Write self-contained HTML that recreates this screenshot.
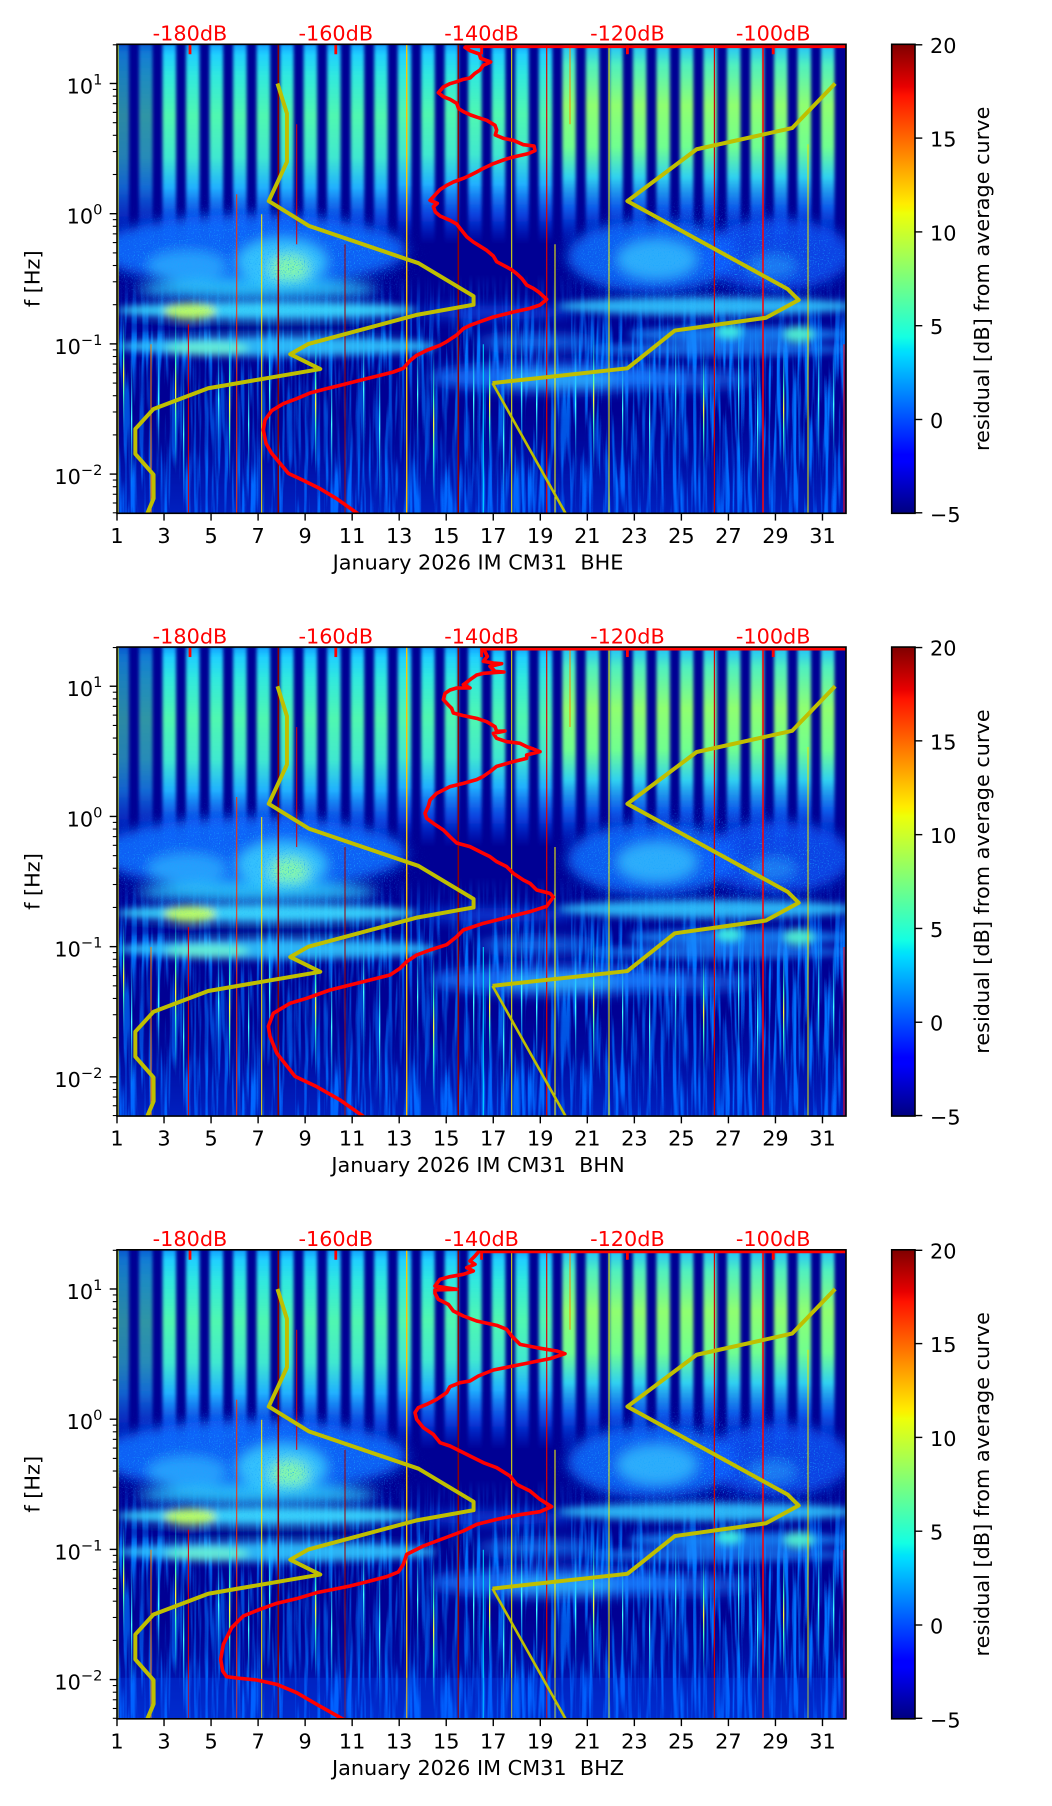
<!DOCTYPE html>
<html><head><meta charset="utf-8"><style>
html,body{margin:0;padding:0;background:#fff;}
svg{display:block;font-family:"DejaVu Sans","Liberation Sans",sans-serif;}
</style></head><body>
<svg width="1052" height="1806" viewBox="0 0 1052 1806" xmlns="http://www.w3.org/2000/svg" xmlns:xlink="http://www.w3.org/1999/xlink">
<defs>
<clipPath id="clp"><rect x="0" y="0" width="729" height="469"/></clipPath>
<linearGradient id="sgA" x1="0" y1="0" x2="0" y2="1">
<stop offset="0" stop-color="#10a0ff"/><stop offset="0.05" stop-color="#20d0ff"/><stop offset="0.15" stop-color="#30e8e0"/><stop offset="0.35" stop-color="#50f8b0"/><stop offset="0.55" stop-color="#40e8d0"/><stop offset="0.7" stop-color="#20b0ff"/><stop offset="0.85" stop-color="#1060ff" stop-opacity="0.7"/><stop offset="1" stop-color="#0040ff" stop-opacity="0"/>
</linearGradient>
<linearGradient id="sgB" x1="0" y1="0" x2="0" y2="1">
<stop offset="0" stop-color="#20c0ff"/><stop offset="0.1" stop-color="#50f0c0"/><stop offset="0.3" stop-color="#90ff70"/><stop offset="0.5" stop-color="#70ff90"/><stop offset="0.65" stop-color="#30d0f0"/><stop offset="0.8" stop-color="#1070ff" stop-opacity="0.8"/><stop offset="1" stop-color="#0040ff" stop-opacity="0"/>
</linearGradient>
<linearGradient id="spC" x1="0" y1="0" x2="0" y2="1">
<stop offset="0" stop-color="#00a0ff" stop-opacity="0"/><stop offset="0.5" stop-color="#40ffff"/><stop offset="1" stop-color="#00a0ff" stop-opacity="0"/>
</linearGradient>
<linearGradient id="spY" x1="0" y1="0" x2="0" y2="1">
<stop offset="0" stop-color="#00c0ff" stop-opacity="0"/><stop offset="0.35" stop-color="#40ffc0"/><stop offset="0.5" stop-color="#ffff30"/><stop offset="0.65" stop-color="#40ffc0"/><stop offset="1" stop-color="#00c0ff" stop-opacity="0"/>
</linearGradient>
<linearGradient id="botg" x1="0" y1="0" x2="0" y2="1">
<stop offset="0" stop-color="#0050ff" stop-opacity="0"/><stop offset="1" stop-color="#0050ff" stop-opacity="0.4"/>
</linearGradient>
<linearGradient id="mg1" x1="0" y1="0" x2="0" y2="1">
<stop offset="0" stop-color="#000"/><stop offset="0.3" stop-color="#fff"/><stop offset="1" stop-color="#fff"/>
</linearGradient>
<linearGradient id="jet" x1="0" y1="1" x2="0" y2="0">
<stop offset="0" stop-color="#000080"/><stop offset="0.11" stop-color="#0000ff"/><stop offset="0.125" stop-color="#0000ff"/><stop offset="0.34" stop-color="#00dbff"/><stop offset="0.35" stop-color="#00e5f8"/><stop offset="0.375" stop-color="#14ffe3"/><stop offset="0.64" stop-color="#eeff09"/><stop offset="0.65" stop-color="#f7f500"/><stop offset="0.66" stop-color="#ffec00"/><stop offset="0.89" stop-color="#ff1200"/><stop offset="0.91" stop-color="#e80000"/><stop offset="1" stop-color="#800000"/>
</linearGradient>
<filter id="hb" x="-5%" y="-5%" width="110%" height="110%"><feGaussianBlur stdDeviation="1.6 1"/></filter>
<filter id="cb" x="-20%" y="-30%" width="140%" height="160%"><feGaussianBlur stdDeviation="6"/></filter>
<filter id="cb2" x="-20%" y="-30%" width="140%" height="160%"><feGaussianBlur stdDeviation="4"/></filter>
<filter id="db" x="-20%" y="-30%" width="140%" height="160%"><feGaussianBlur stdDeviation="12"/></filter>
<filter id="mb" x="-20%" y="-30%" width="140%" height="160%"><feGaussianBlur stdDeviation="15"/></filter>
<filter id="streak" x="0" y="0" width="1" height="1" color-interpolation-filters="sRGB">
<feTurbulence type="fractalNoise" baseFrequency="0.25 0.012" numOctaves="2" seed="4"/>
<feColorMatrix type="matrix" values="0 0 0 0 0  0 0 0 0 0.45  0 0 0 0 1  4.5 0 0 0 -2.05"/>
</filter>
<filter id="spk" x="0" y="0" width="1" height="1" color-interpolation-filters="sRGB">
<feTurbulence type="fractalNoise" baseFrequency="0.8" numOctaves="1" seed="9"/>
<feColorMatrix type="matrix" values="0 0 0 0 0.1  0 0 0 0 0.65  0 0 0 0 1  5 0 0 0 -2.8"/>
</filter>
<mask id="mStreak" maskUnits="userSpaceOnUse" x="0" y="0" width="729" height="469">
<rect x="0" y="230" width="729" height="239" fill="url(#mg1)"/>
</mask>
<mask id="mSpk" maskUnits="userSpaceOnUse" x="-50" y="-50" width="829" height="569">
<g filter="url(#mb)">
<ellipse cx="140" cy="215" rx="150" ry="42" fill="#fff"/>
<ellipse cx="590" cy="215" rx="140" ry="42" fill="#fff"/>
</g>
</mask>

<g id="spec">
<rect x="0" y="0" width="729" height="469" fill="#000094"/>
<g filter="url(#hb)">
<rect x="-1.5" y="0" width="13.5" height="205" fill="url(#sgA)" opacity="0.55"/>
<rect x="22.0" y="0" width="13.5" height="205" fill="url(#sgA)" opacity="0.6"/>
<rect x="45.5" y="0" width="13.5" height="205" fill="url(#sgA)"/>
<rect x="69.0" y="0" width="13.5" height="205" fill="url(#sgA)"/>
<rect x="92.6" y="0" width="13.5" height="205" fill="url(#sgA)"/>
<rect x="116.1" y="0" width="13.5" height="205" fill="url(#sgA)"/>
<rect x="139.6" y="0" width="13.5" height="205" fill="url(#sgA)"/>
<rect x="163.1" y="0" width="13.5" height="205" fill="url(#sgA)"/>
<rect x="186.6" y="0" width="13.5" height="205" fill="url(#sgA)"/>
<rect x="210.1" y="0" width="13.5" height="205" fill="url(#sgA)"/>
<rect x="233.7" y="0" width="13.5" height="205" fill="url(#sgA)"/>
<rect x="257.2" y="0" width="13.5" height="205" fill="url(#sgA)"/>
<rect x="280.7" y="0" width="13.5" height="200" fill="url(#sgA)"/>
<rect x="304.2" y="0" width="13.5" height="200" fill="url(#sgA)"/>
<rect x="327.7" y="0" width="13.5" height="200" fill="url(#sgA)"/>
<rect x="351.2" y="0" width="13.5" height="200" fill="url(#sgA)"/>
<rect x="374.8" y="0" width="13.5" height="200" fill="url(#sgA)"/>
<rect x="398.3" y="0" width="13.5" height="200" fill="url(#sgA)"/>
<rect x="421.8" y="0" width="13.5" height="200" fill="url(#sgA)"/>
<rect x="445.3" y="0" width="13.5" height="205" fill="url(#sgB)"/>
<rect x="468.8" y="0" width="13.5" height="205" fill="url(#sgB)"/>
<rect x="492.3" y="0" width="13.5" height="205" fill="url(#sgB)"/>
<rect x="515.9" y="0" width="13.5" height="205" fill="url(#sgB)"/>
<rect x="539.4" y="0" width="13.5" height="205" fill="url(#sgB)"/>
<rect x="562.9" y="0" width="13.5" height="205" fill="url(#sgB)"/>
<rect x="586.4" y="0" width="13.5" height="205" fill="url(#sgB)"/>
<rect x="609.9" y="0" width="13.5" height="205" fill="url(#sgB)"/>
<rect x="633.4" y="0" width="13.5" height="205" fill="url(#sgB)"/>
<rect x="657.0" y="0" width="13.5" height="205" fill="url(#sgB)"/>
<rect x="680.5" y="0" width="13.5" height="205" fill="url(#sgB)"/>
<rect x="704.0" y="0" width="13.5" height="205" fill="url(#sgB)"/>
</g>
<g mask="url(#mStreak)">
<rect x="0" y="230" width="729" height="239" fill="#000" filter="url(#streak)"/>
</g>
<rect x="0" y="370" width="729" height="99" fill="url(#botg)"/>
<g filter="url(#db)">
<rect x="0" y="318" width="330" height="95" fill="#000094" opacity="0.4"/>
<rect x="330" y="355" width="250" height="60" fill="#000094" opacity="0.25"/>
</g>
<g filter="url(#cb)">
<ellipse cx="135" cy="206" rx="155" ry="36" fill="#0c6cff" opacity="0.9"/>
<ellipse cx="70" cy="222" rx="40" ry="16" fill="#30b8ff" opacity="0.7"/>
<ellipse cx="165" cy="218" rx="45" ry="24" fill="#40d8ff" opacity="0.8"/>
<ellipse cx="172" cy="224" rx="20" ry="14" fill="#90ffa0" opacity="0.85"/>
<ellipse cx="140" cy="245" rx="120" ry="10" fill="#30d0ff" opacity="0.85"/>
<ellipse cx="380" cy="268" rx="80" ry="7" fill="#1060ff" opacity="0.6"/>
<ellipse cx="420" cy="298" rx="60" ry="8" fill="#1888ff" opacity="0.7"/>
<ellipse cx="440" cy="333" rx="130" ry="14" fill="#1478ff" opacity="0.85"/>
<ellipse cx="445" cy="336" rx="60" ry="8" fill="#30c0ff" opacity="0.75"/>
<ellipse cx="565" cy="335" rx="75" ry="10" fill="#1a80ff" opacity="0.6"/>
<ellipse cx="535" cy="212" rx="85" ry="36" fill="#0c6cff" opacity="0.85"/>
<ellipse cx="540" cy="215" rx="40" ry="20" fill="#38c8ff" opacity="0.75"/>
<ellipse cx="660" cy="210" rx="75" ry="36" fill="#0a5cff" opacity="0.75"/>
<ellipse cx="655" cy="222" rx="25" ry="12" fill="#30b0ff" opacity="0.5"/>
</g>
<g filter="url(#cb2)">
<ellipse cx="150" cy="266" rx="150" ry="9" fill="#38d8ff" opacity="0.95"/>
<ellipse cx="73" cy="267" rx="26" ry="8" fill="#c0ff60" opacity="0.95"/>
<ellipse cx="140" cy="283" rx="150" ry="4" fill="#000094" opacity="0.8"/>
<ellipse cx="160" cy="302" rx="160" ry="10" fill="#30c8ff" opacity="0.9"/>
<ellipse cx="90" cy="304" rx="42" ry="7" fill="#70f8d0" opacity="0.8"/>
<ellipse cx="590" cy="262" rx="150" ry="9" fill="#30c8ff" opacity="0.9"/>
<ellipse cx="620" cy="290" rx="110" ry="8" fill="#1890ff" opacity="0.8"/>
<ellipse cx="612" cy="287" rx="13" ry="7" fill="#40f0e0" opacity="0.95"/>
<ellipse cx="682" cy="290" rx="15" ry="8" fill="#50f0d0" opacity="0.95"/>
<ellipse cx="600" cy="305" rx="130" ry="7" fill="#1a8cff" opacity="0.7"/>
</g>
<g mask="url(#mSpk)">
<rect x="0" y="140" width="729" height="150" fill="#000" filter="url(#spk)" opacity="0.8"/>
</g>
<g>
<rect x="6" y="270" width="1.3" height="120" fill="url(#spY)"/>
<rect x="14" y="300" width="1.3" height="150" fill="url(#spC)"/>
<rect x="41" y="290" width="1.3" height="130" fill="url(#spC)"/>
<rect x="58" y="260" width="1.3" height="170" fill="url(#spY)"/>
<rect x="66" y="320" width="1.3" height="140" fill="url(#spC)"/>
<rect x="101" y="300" width="1.3" height="110" fill="url(#spC)"/>
<rect x="112" y="280" width="1.3" height="160" fill="url(#spY)"/>
<rect x="131" y="320" width="1.3" height="120" fill="url(#spC)"/>
<rect x="152" y="270" width="1.3" height="150" fill="url(#spC)"/>
<rect x="198" y="290" width="1.3" height="140" fill="url(#spY)"/>
<rect x="214" y="310" width="1.3" height="140" fill="url(#spC)"/>
<rect x="246" y="280" width="1.3" height="130" fill="url(#spC)"/>
<rect x="262" y="300" width="1.3" height="169" fill="url(#spC)"/>
<rect x="300" y="290" width="1.3" height="120" fill="url(#spC)"/>
<rect x="316" y="300" width="1.3" height="160" fill="url(#spY)"/>
<rect x="356" y="280" width="1.3" height="150" fill="url(#spC)"/>
<rect x="372" y="300" width="1.3" height="120" fill="url(#spY)"/>
<rect x="386" y="320" width="1.3" height="149" fill="url(#spC)"/>
<rect x="404" y="280" width="1.3" height="130" fill="url(#spC)"/>
<rect x="419" y="300" width="1.3" height="120" fill="url(#spC)"/>
<rect x="458" y="290" width="1.3" height="140" fill="url(#spC)"/>
<rect x="476" y="280" width="1.3" height="150" fill="url(#spY)"/>
<rect x="505" y="300" width="1.3" height="130" fill="url(#spC)"/>
<rect x="532" y="290" width="1.3" height="179" fill="url(#spC)"/>
<rect x="558" y="280" width="1.3" height="140" fill="url(#spC)"/>
<rect x="586" y="300" width="1.3" height="130" fill="url(#spY)"/>
<rect x="621" y="270" width="1.3" height="150" fill="url(#spC)"/>
<rect x="640" y="290" width="1.3" height="179" fill="url(#spC)"/>
<rect x="666" y="300" width="1.3" height="130" fill="url(#spY)"/>
<rect x="701" y="280" width="1.3" height="150" fill="url(#spC)"/>
<rect x="716" y="300" width="1.3" height="120" fill="url(#spC)"/>
</g>
<g fill="none">
<line x1="1" y1="0" x2="1" y2="469" stroke="#e0e000" stroke-width="1"/>
<line x1="34" y1="300" x2="34" y2="469" stroke="#ff8000" stroke-width="1"/>
<line x1="71.4" y1="280" x2="71.4" y2="469" stroke="#e00000" stroke-width="1"/>
<line x1="119.7" y1="150" x2="119.7" y2="469" stroke="#ff3000" stroke-width="1"/>
<line x1="144.7" y1="170" x2="144.7" y2="469" stroke="#ffee00" stroke-width="1"/>
<line x1="161.3" y1="0" x2="161.3" y2="469" stroke="#8a0000" stroke-width="1.5"/>
<line x1="179.7" y1="80" x2="179.7" y2="200" stroke="#e00000" stroke-width="1"/>
<line x1="228" y1="200" x2="228" y2="469" stroke="#a00000" stroke-width="1"/>
<line x1="289.7" y1="0" x2="289.7" y2="469" stroke="#ffc000" stroke-width="1.4"/>
<line x1="341.3" y1="0" x2="341.3" y2="469" stroke="#900000" stroke-width="1.5"/>
<line x1="366.3" y1="300" x2="366.3" y2="469" stroke="#00e0ff" stroke-width="1"/>
<line x1="394.7" y1="0" x2="394.7" y2="469" stroke="#f0f000" stroke-width="1"/>
<line x1="429.7" y1="0" x2="429.7" y2="469" stroke="#e00000" stroke-width="1.2"/>
<line x1="438" y1="200" x2="438" y2="469" stroke="#ffff00" stroke-width="1"/>
<line x1="453" y1="0" x2="453" y2="80" stroke="#ff8000" stroke-width="1"/>
<line x1="492" y1="0" x2="492" y2="469" stroke="#f0f000" stroke-width="1"/>
<line x1="597.4" y1="0" x2="597.4" y2="469" stroke="#d00000" stroke-width="1.2"/>
<line x1="646" y1="0" x2="646" y2="469" stroke="#ff0000" stroke-width="1.5"/>
<line x1="691" y1="100" x2="691" y2="469" stroke="#e8e800" stroke-width="1"/>
<line x1="727" y1="300" x2="727" y2="469" stroke="#ff0000" stroke-width="1"/>
</g>
</g>

<g id="ycurves" fill="none" stroke="#bfbf00" stroke-linejoin="round">
<polyline stroke-width="4" points="160.48,39.19 169.96,69.20 169.96,117.58 151.73,156.78 191.83,181.56 301.54,218.90 356.58,251.87 356.58,260.40 298.99,270.71 191.46,299.59 173.24,309.90 203.27,324.74 91.23,343.92 36.55,364.65 18.33,384.64 18.33,409.63 36.55,430.36 36.62,454.21 30.35,468.99"/>
<polyline stroke-width="4" points="718.17,39.19 675.08,83.78 579.66,104.96 510.40,156.78 670.78,244.88 681.72,255.69 648.91,273.47 557.79,286.27 510.40,324.01 375.54,338.79"/>
<polyline stroke-width="2.6" points="375.54,338.79 448.51,468.99"/>
</g>

<g id="deco">
<rect x="0" y="0" width="729" height="469" fill="none" stroke="#000" stroke-width="1.6"/>
<g stroke="#000" stroke-width="1.4">
<line x1="0" y1="469" x2="0" y2="476.3"/><line x1="47.03" y1="469" x2="47.03" y2="476.3"/><line x1="94.06" y1="469" x2="94.06" y2="476.3"/><line x1="141.10" y1="469" x2="141.10" y2="476.3"/><line x1="188.13" y1="469" x2="188.13" y2="476.3"/><line x1="235.16" y1="469" x2="235.16" y2="476.3"/><line x1="282.19" y1="469" x2="282.19" y2="476.3"/><line x1="329.22" y1="469" x2="329.22" y2="476.3"/><line x1="376.26" y1="469" x2="376.26" y2="476.3"/><line x1="423.29" y1="469" x2="423.29" y2="476.3"/><line x1="470.32" y1="469" x2="470.32" y2="476.3"/><line x1="517.35" y1="469" x2="517.35" y2="476.3"/><line x1="564.38" y1="469" x2="564.38" y2="476.3"/><line x1="611.42" y1="469" x2="611.42" y2="476.3"/><line x1="658.45" y1="469" x2="658.45" y2="476.3"/><line x1="705.48" y1="469" x2="705.48" y2="476.3"/>
<line x1="-7.3" y1="39.19" x2="0" y2="39.19"/><line x1="-7.3" y1="169.39" x2="0" y2="169.39"/><line x1="-7.3" y1="299.59" x2="0" y2="299.59"/><line x1="-7.3" y1="429.79" x2="0" y2="429.79"/>
</g>
<g stroke="#000" stroke-width="1.1">
<line x1="-4.2" y1="0.5" x2="0" y2="0.5"/>
<line x1="-4.2" y1="130.20" x2="0" y2="130.20"/><line x1="-4.2" y1="107.27" x2="0" y2="107.27"/><line x1="-4.2" y1="91.01" x2="0" y2="91.01"/><line x1="-4.2" y1="78.39" x2="0" y2="78.39"/><line x1="-4.2" y1="68.08" x2="0" y2="68.08"/><line x1="-4.2" y1="59.36" x2="0" y2="59.36"/><line x1="-4.2" y1="51.81" x2="0" y2="51.81"/><line x1="-4.2" y1="45.15" x2="0" y2="45.15"/>
<line x1="-4.2" y1="260.40" x2="0" y2="260.40"/><line x1="-4.2" y1="237.47" x2="0" y2="237.47"/><line x1="-4.2" y1="221.21" x2="0" y2="221.21"/><line x1="-4.2" y1="208.59" x2="0" y2="208.59"/><line x1="-4.2" y1="198.28" x2="0" y2="198.28"/><line x1="-4.2" y1="189.56" x2="0" y2="189.56"/><line x1="-4.2" y1="182.01" x2="0" y2="182.01"/><line x1="-4.2" y1="175.35" x2="0" y2="175.35"/>
<line x1="-4.2" y1="390.60" x2="0" y2="390.60"/><line x1="-4.2" y1="367.67" x2="0" y2="367.67"/><line x1="-4.2" y1="351.41" x2="0" y2="351.41"/><line x1="-4.2" y1="338.79" x2="0" y2="338.79"/><line x1="-4.2" y1="328.48" x2="0" y2="328.48"/><line x1="-4.2" y1="319.76" x2="0" y2="319.76"/><line x1="-4.2" y1="312.21" x2="0" y2="312.21"/><line x1="-4.2" y1="305.55" x2="0" y2="305.55"/>
<line x1="-4.2" y1="468.5" x2="0" y2="468.5"/><line x1="-4.2" y1="458.68" x2="0" y2="458.68"/><line x1="-4.2" y1="449.96" x2="0" y2="449.96"/><line x1="-4.2" y1="442.41" x2="0" y2="442.41"/><line x1="-4.2" y1="435.75" x2="0" y2="435.75"/>
</g>
<g font-size="20.8" fill="#000" text-anchor="middle">
<text x="0" y="498.7">1</text><text x="47.03" y="498.7">3</text><text x="94.06" y="498.7">5</text><text x="141.10" y="498.7">7</text><text x="188.13" y="498.7">9</text><text x="235.16" y="498.7">11</text><text x="282.19" y="498.7">13</text><text x="329.22" y="498.7">15</text><text x="376.26" y="498.7">17</text><text x="423.29" y="498.7">19</text><text x="470.32" y="498.7">21</text><text x="517.35" y="498.7">23</text><text x="564.38" y="498.7">25</text><text x="611.42" y="498.7">27</text><text x="658.45" y="498.7">29</text><text x="705.48" y="498.7">31</text>
</g>
<g font-size="20.8" fill="#000" text-anchor="end">
<text x="-14.6" y="49.2">10<tspan dy="-9" font-size="14.6">1</tspan></text>
<text x="-14.6" y="179.4">10<tspan dy="-9" font-size="14.6">0</tspan></text>
<text x="-14.6" y="309.6">10<tspan dy="-9" font-size="14.6">−1</tspan></text>
<text x="-14.6" y="439.8">10<tspan dy="-9" font-size="14.6">−2</tspan></text>
</g>
<text transform="translate(-77.5,234.5) rotate(-90)" font-size="20.8" text-anchor="middle" fill="#000">f [Hz]</text>
<g font-size="20.8" fill="#ff0000" text-anchor="middle">
<text x="73" y="-3.8">-180dB</text><text x="218.8" y="-3.8">-160dB</text><text x="364.6" y="-3.8">-140dB</text><text x="510.4" y="-3.8">-120dB</text><text x="656.2" y="-3.8">-100dB</text>
</g>
<rect x="774.7" y="0" width="23.3" height="469" fill="url(#jet)" stroke="#000" stroke-width="1.6"/>
<g stroke="#000" stroke-width="1.4">
<line x1="798" y1="0.5" x2="805.3" y2="0.5"/><line x1="798" y1="93.8" x2="805.3" y2="93.8"/><line x1="798" y1="187.6" x2="805.3" y2="187.6"/><line x1="798" y1="281.4" x2="805.3" y2="281.4"/><line x1="798" y1="375.2" x2="805.3" y2="375.2"/><line x1="798" y1="468.5" x2="805.3" y2="468.5"/>
</g>
<g font-size="20.8" fill="#000">
<text x="813" y="8.5">20</text><text x="813" y="102.3">15</text><text x="813" y="196.1">10</text><text x="813" y="289.9">5</text><text x="813" y="383.7">0</text><text x="813" y="477.5">−5</text>
</g>
<text transform="translate(872,234.5) rotate(-90)" font-size="20.8" text-anchor="middle" fill="#000">residual [dB] from average curve</text>
</g>

<g id="redticks" stroke="#ff0000" stroke-width="2.8">
<line x1="73" y1="0" x2="73" y2="10"/><line x1="218.8" y1="0" x2="218.8" y2="10"/><line x1="364.6" y1="0" x2="364.6" y2="10"/><line x1="510.4" y1="0" x2="510.4" y2="10"/><line x1="656.2" y1="0" x2="656.2" y2="10"/>
</g>
</defs>

<rect x="0" y="0" width="1052" height="1806" fill="#fff"/>

<!-- Panel 1 -->
<g transform="translate(117,44.3)">
<g clip-path="url(#clp)">
<use href="#spec" xlink:href="#spec"/>
<use href="#ycurves" xlink:href="#ycurves"/>
<line x1="348" y1="2.3" x2="729" y2="2.3" stroke="#ff0000" stroke-width="3"/>
<g transform="translate(113,-4.3) scale(0.333333)">
<polyline fill="none" stroke="#ff0000" stroke-width="10.8" stroke-linejoin="round" stroke-linecap="round" points="705,22 720,32 748,42 752,55 782,66 760,76 750,90 735,100 720,114 700,118 680,125 660,131 640,141 625,158 640,170 660,178 680,190 686,206 700,215 722,225 742,232 770,241 795,256 800,270 796,285 820,295 850,301 880,314 912,318 915,332 895,341 850,351 820,360 790,371 760,385 740,396 720,406 700,415 670,426 650,436 630,449 614,466 600,481 622,490 610,500 616,516 630,528 660,541 680,552 695,571 710,590 730,606 746,616 770,631 790,648 800,665 830,681 846,690 860,701 876,716 890,735 910,745 926,756 950,778 930,795 900,805 850,816 790,831 750,845 720,856 700,866 680,885 650,905 630,916 590,931 560,946 540,962 520,985 490,996 450,1006 410,1016 370,1026 330,1036 290,1046 240,1059 200,1076 160,1091 125,1112 105,1140 100,1170 108,1210 125,1240 150,1270 175,1300 220,1321 270,1346 320,1376 385,1422"/>
</g>
<use href="#redticks" xlink:href="#redticks"/>
</g>
<use href="#deco" xlink:href="#deco"/>
<text x="361" y="525" font-size="20.8" text-anchor="middle" fill="#000">January 2026 IM CM31 &#160;BHE</text>
</g>

<!-- Panel 2 -->
<g transform="translate(117,647.05)">
<g clip-path="url(#clp)">
<use href="#spec" xlink:href="#spec"/>
<use href="#ycurves" xlink:href="#ycurves"/>
<line x1="366" y1="2" x2="729" y2="2" stroke="#ff0000" stroke-width="3"/>
<g transform="translate(113,-4.05) scale(0.333333)">
<polyline fill="none" stroke="#ff0000" stroke-width="10.8" stroke-linejoin="round" stroke-linecap="round" points="762,20 772,40 760,55 790,60 815,62 780,70 795,85 822,87 760,91 740,96 720,110 700,125 720,135 680,135 660,141 645,151 640,170 655,186 665,196 670,210 700,218 740,226 770,236 795,251 800,265 825,264 790,271 800,286 830,296 870,301 890,311 910,318 930,326 890,336 890,346 850,356 800,370 780,386 760,400 740,410 700,421 660,431 620,451 600,471 595,490 585,511 590,526 610,541 640,561 660,581 680,600 720,611 760,631 780,641 800,656 830,671 850,691 880,711 900,721 920,741 960,751 970,762 950,790 900,806 820,826 760,841 700,861 680,881 650,905 600,921 560,936 530,956 510,976 480,996 420,1011 360,1026 300,1041 230,1066 180,1081 130,1111 115,1150 120,1180 140,1230 195,1300 260,1331 330,1371 400,1420"/>
</g>
<use href="#redticks" xlink:href="#redticks"/>
</g>
<use href="#deco" xlink:href="#deco"/>
<text x="361" y="525" font-size="20.8" text-anchor="middle" fill="#000">January 2026 IM CM31 &#160;BHN</text>
</g>

<!-- Panel 3 -->
<g transform="translate(117,1249.8)">
<g clip-path="url(#clp)">
<use href="#spec" xlink:href="#spec"/>
<rect x="0" y="428" width="729" height="41" fill="#0050ff" opacity="0.25"/>
<use href="#ycurves" xlink:href="#ycurves"/>
<line x1="360" y1="2" x2="729" y2="2" stroke="#ff0000" stroke-width="3"/>
<g transform="translate(113,-3.8) scale(0.333333)">
<polyline fill="none" stroke="#ff0000" stroke-width="10.8" stroke-linejoin="round" stroke-linecap="round" points="745,18 735,30 720,45 735,55 710,65 730,75 700,85 660,92 630,100 615,120 680,130 615,132 615,142 625,160 655,175 670,195 700,210 740,225 800,238 830,250 845,270 870,295 920,305 980,315 1005,323 960,338 900,350 840,362 790,372 745,390 720,405 690,410 660,422 650,440 620,460 590,475 565,485 555,500 560,520 580,545 610,565 630,590 660,600 690,615 720,630 760,650 800,665 840,690 860,715 900,735 930,760 965,782 930,797 870,806 800,820 740,835 700,855 660,870 620,885 580,900 530,925 520,955 505,978 470,992 420,1005 360,1020 310,1030 260,1040 200,1058 140,1072 90,1090 40,1110 5,1145 -20,1195 -28,1240 -22,1275 -10,1292 20,1296 80,1302 140,1315 200,1340 260,1375 340,1420"/>
</g>
<use href="#redticks" xlink:href="#redticks"/>
</g>
<use href="#deco" xlink:href="#deco"/>
<text x="361" y="525" font-size="20.8" text-anchor="middle" fill="#000">January 2026 IM CM31 &#160;BHZ</text>
</g>
</svg>
</body></html>
